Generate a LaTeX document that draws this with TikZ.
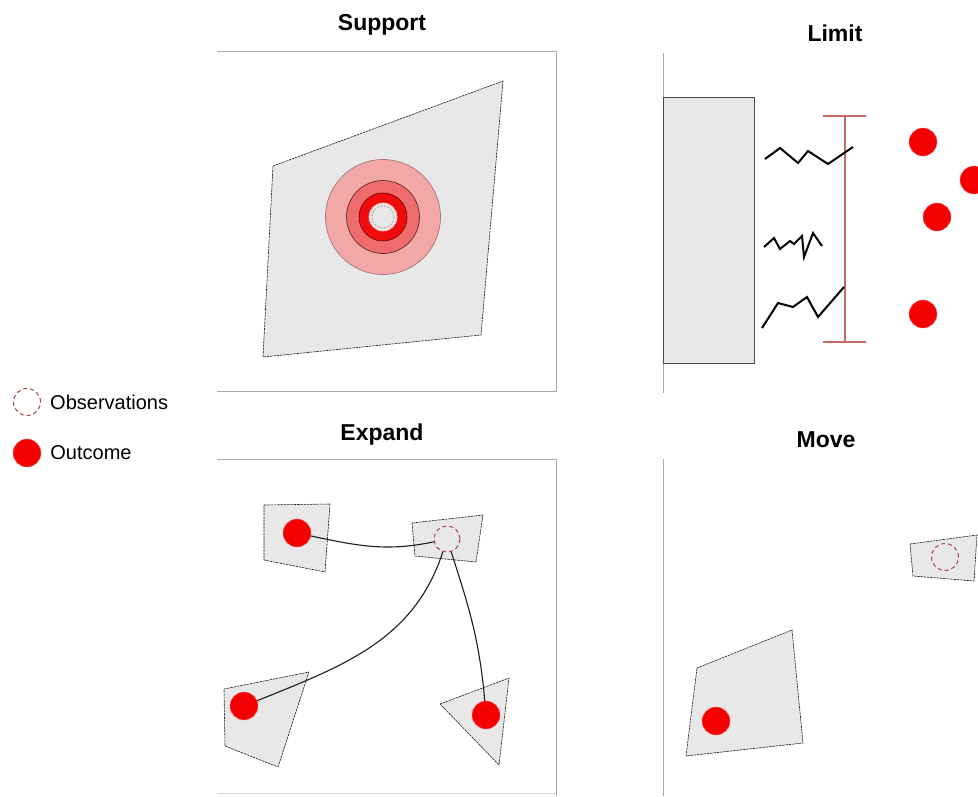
\documentclass[tikz,border=0pt]{standalone}
\usepackage{fontspec}
\setmainfont{Liberation Sans}
\usetikzlibrary{positioning}
\definecolor{ink}{RGB}{30,30,30}
\definecolor{frame}{RGB}{170,170,170}
\definecolor{patch}{RGB}{232,232,232}
\definecolor{obs}{RGB}{170,70,70}
\definecolor{bar}{RGB}{200,105,105}
\definecolor{ringa}{RGB}{243,168,168}
\definecolor{ringb}{RGB}{238,108,108}
\definecolor{ringc}{RGB}{240,12,12}
\definecolor{dot}{RGB}{245,0,0}
\tikzset{
  title/.style={font=\fontsize{23}{27}\selectfont\bfseries},
  legtxt/.style={font=\fontsize{20}{24}\selectfont,anchor=west,inner sep=0pt},
  panel/.style={draw=frame,line width=0.9pt},
  patchpoly/.style={fill=patch,draw=ink,line width=0.6pt,dash pattern=on 2.5pt off 0.8pt},
  outcome/.style={circle,fill=dot,draw=dot!60!white,minimum size=28pt,inner sep=0pt},
  observ/.style={circle,draw=obs,dash pattern=on 4pt off 3pt,fill=patch,
    minimum size=26pt,inner sep=0pt,line width=1pt},
  ring/.style={circle,inner sep=0pt,line width=0.7pt},
  link/.style={draw=ink,line width=1.1pt},
  zig/.style={draw=black,line width=2pt},
}
\begin{document}
\begin{tikzpicture}[x=1pt,y=1pt]
  \clip (0,0) rectangle (978,-796);
  \fill[white] (0,0) rectangle (978,-796);
  % panels
  \draw[panel] (217,-51) -- (556,-51) -- (556,-391) -- (217,-391);
  \draw[panel] (217,-459) -- (556,-459) -- (556,-796);
  \draw[panel,draw=frame!50] (217,-793) -- (556,-793);
  \draw[panel] (663,-53) -- (663,-393);
  \draw[panel] (663,-459) -- (663,-796);
  \node[title] (tsup) at (382,-25) {Support};
  \node[title] (tlim) at (835,-33) {Limit};
  \node[title] (texp) at (382,-435) {Expand};
  \node[title] (tmov) at (826,-440) {Move};
  % legend
  \node[observ,fill=white,minimum size=27pt] (lg0) at (27,-402) {};
  \node[legtxt,right=9pt of lg0] {Observations};
  \node[outcome] (lg1) at (27,-453) {};
  \node[legtxt,right=9pt of lg1] {Outcome};
  % support
  \draw[patchpoly] (273,-166) -- (503,-81) -- (481,-335) -- (263,-357) -- cycle;
  \node[ring,fill=ringa,draw=ringa!70!black,minimum size=115pt] (r1) at (383,-217) {};
  \node[ring,fill=ringb,draw=ringb!40!black,minimum size=73pt] (r2) at (r1) {};
  \node[ring,fill=ringc,draw=ringc!50!black,minimum size=48pt] (r3) at (r1) {};
  \node[ring,fill=patch,draw=ringb!40!white,minimum size=28pt] (r4) at (r1) {};
  \node[ring,draw=obs!60!white,dash pattern=on 2pt off 1.5pt,minimum size=22pt] (s0) at (r1) {};
  % limit
  \draw[fill=patch,draw=ink!80,line width=0.8pt] (663,-97) rectangle (754,-363);
  \draw[bar,line width=1.2pt] (845,-116) -- (845,-342);
  \draw[bar,line width=1.2pt] (823,-116) -- (866,-116);
  \draw[bar,line width=1.2pt] (823,-342) -- (866,-342);
  \draw[zig] (765,-159) -- (780,-148) -- (798,-163) -- (808,-151) -- (828,-164) -- (853,-147);
  \draw[zig] (764,-247) -- (774,-238) -- (780,-249) -- (790,-241) -- (794,-244)
    -- (802,-236) -- (804,-257) -- (813,-233) -- (822,-246);
  \draw[zig] (762,-328) -- (778,-303) -- (793,-307) -- (807,-297) -- (818,-317) -- (844,-287);
  \node[outcome] (l1) at (923,-142) {};
  \node[outcome] (l2) at (974,-180) {};
  \node[outcome] (l3) at (937,-217) {};
  \node[outcome] (l4) at (923,-314) {};
  % expand
  \draw[patchpoly] (264,-505) -- (330,-504) -- (325,-572) -- (264,-560) -- cycle;
  \draw[patchpoly] (412,-523) -- (483,-515) -- (476,-562) -- (415,-556) -- cycle;
  \draw[patchpoly] (224,-689) -- (309,-672) -- (278,-767) -- (225,-746) -- cycle;
  \draw[patchpoly] (440,-704) -- (509,-678) -- (499,-765) -- cycle;
  \node[outcome] (eA) at (297,-533) {};
  \node[observ] (oB) at (447,-539) {};
  \node[outcome] (eC) at (244,-706) {};
  \node[outcome] (eD) at (486,-715) {};
  \draw[link] (eA) to[out=-12,in=192] (oB);
  \draw[link] (oB) to[out=-108,in=22] (eC);
  \draw[link] (oB) to[out=-72,in=95] (eD);
  % move
  \draw[patchpoly] (910,-544) -- (977,-535) -- (974,-581) -- (913,-576) -- cycle;
  \draw[patchpoly] (697,-668) -- (792,-630) -- (803,-743) -- (686,-756) -- cycle;
  \node[observ,minimum size=27pt] (m0) at (945,-557) {};
  \node[outcome] (m1) at (716,-721) {};
\end{tikzpicture}
\end{document}
